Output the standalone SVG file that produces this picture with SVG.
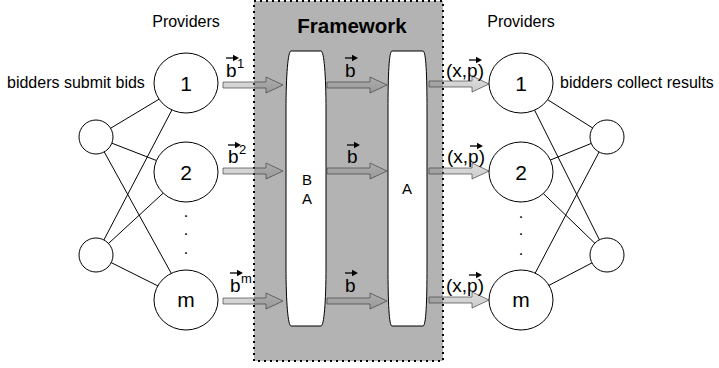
<svg xmlns="http://www.w3.org/2000/svg" xmlns:xlink="http://www.w3.org/1999/xlink" width="719" height="368" viewBox="0 0 719 368">
<defs>
<linearGradient id="ag" x1="0" y1="0" x2="0" y2="1">
<stop offset="0" stop-color="#a0a0a0"/>
<stop offset="1" stop-color="#6a6a6a"/>
</linearGradient>
<path id="arr" d="M0,-3 H43 V-8 L60,0 L43,8 V3 H0 Z"/>
<g id="vec"><line x1="0" y1="0" x2="9" y2="0" stroke="#000" stroke-width="1.3"/><path d="M7,-3.2 L13,0 L7,3.2 Z" fill="#000"/></g>
<style>
.t{font-family:"Liberation Sans",Arial,Helvetica,sans-serif;fill:#000}
.lbl{font-size:16px}
.bv{font-size:19px}
.num{font-size:21px;text-anchor:middle}
.sup{font-size:13px}
.big{fill:#fff;stroke:#000;stroke-width:1}
.edge{stroke:#000;stroke-width:1}
.arrow{fill:url(#ag);fill-opacity:0.35;stroke:#444;stroke-opacity:0.7;stroke-width:1}
.pillar{fill:#fff;stroke:#000;stroke-width:1}
</style>
</defs>

<g id="framework">
<rect x="254" y="1" width="189" height="360" fill="#b3b3b3" stroke="#000" stroke-width="2" stroke-dasharray="2 4"/>
<text class="t" x="352" y="33" font-size="20.5" font-weight="bold" text-anchor="middle">Framework</text>
</g>
<g id="BA">
<path class="pillar" d="M291,51 H321 C324,51 326,75 326,110 V267 C326,302 324,326 321,326 H291 C288,326 286,302 286,267 V110 C286,75 288,51 291,51 Z"/>
<text class="t" x="307" y="185" font-size="15" text-anchor="middle">B</text>
<text class="t" x="307" y="204" font-size="15" text-anchor="middle">A</text>
</g>
<g id="A">
<path class="pillar" d="M392,51 H423 C426,51 427,75 427,110 V267 C427,302 426,326 423,326 H392 C389,326 388,302 388,267 V110 C388,75 389,51 392,51 Z"/>
<text class="t" x="407" y="194" font-size="15" text-anchor="middle">A</text>
</g>

<g id="connectors">
<line class="edge" x1="96" y1="137" x2="186" y2="83"/>
<line class="edge" x1="96" y1="137" x2="186" y2="172"/>
<line class="edge" x1="96" y1="137" x2="186" y2="300"/>
<line class="edge" x1="96" y1="255" x2="186" y2="83"/>
<line class="edge" x1="96" y1="255" x2="186" y2="172"/>
<line class="edge" x1="96" y1="255" x2="186" y2="300"/>
<line class="edge" x1="607" y1="137" x2="521" y2="83"/>
<line class="edge" x1="607" y1="137" x2="521" y2="172"/>
<line class="edge" x1="607" y1="137" x2="521" y2="300"/>
<line class="edge" x1="607" y1="255" x2="521" y2="83"/>
<line class="edge" x1="607" y1="255" x2="521" y2="172"/>
<line class="edge" x1="607" y1="255" x2="521" y2="300"/>
<use xlink:href="#arr" href="#arr" class="arrow" x="223" y="85"/>
<use xlink:href="#arr" href="#arr" class="arrow" x="223" y="171"/>
<use xlink:href="#arr" href="#arr" class="arrow" x="223" y="301"/>
<use xlink:href="#arr" href="#arr" class="arrow" x="327" y="85"/>
<use xlink:href="#arr" href="#arr" class="arrow" x="327" y="171"/>
<use xlink:href="#arr" href="#arr" class="arrow" x="327" y="301"/>
<use xlink:href="#arr" href="#arr" class="arrow" x="429" y="84"/>
<use xlink:href="#arr" href="#arr" class="arrow" x="429" y="171"/>
<use xlink:href="#arr" href="#arr" class="arrow" x="429" y="300"/>
</g>

<g id="arrow-labels">
<text class="t bv" x="226" y="77">b</text><text class="t sup" x="237" y="68">1</text><use xlink:href="#vec" href="#vec" x="226" y="58"/>
<text class="t bv" x="228" y="163">b</text><text class="t sup" x="239" y="154">2</text><use xlink:href="#vec" href="#vec" x="228" y="145"/>
<text class="t bv" x="230" y="292">b</text><text class="t sup" x="241" y="283">m</text><use xlink:href="#vec" href="#vec" x="230" y="273"/>
<text class="t bv" x="345" y="77">b</text><use xlink:href="#vec" href="#vec" x="345" y="58"/>
<text class="t bv" x="347" y="163">b</text><use xlink:href="#vec" href="#vec" x="347" y="145"/>
<text class="t bv" x="345" y="292">b</text><use xlink:href="#vec" href="#vec" x="345" y="273"/>
<text class="t" x="446" y="77" font-size="19">(x,p)</text><use xlink:href="#vec" href="#vec" x="469" y="60"/>
<text class="t" x="447" y="163" font-size="19">(x,p)</text><use xlink:href="#vec" href="#vec" x="470" y="146"/>
<text class="t" x="446" y="292" font-size="19">(x,p)</text><use xlink:href="#vec" href="#vec" x="469" y="275"/>
</g>

<g id="left-bidders">
<text class="t lbl" x="186" y="27" text-anchor="middle">Providers</text>
<text class="t lbl" x="7" y="88">bidders submit bids</text>
</g>
<g id="left-s1"><circle class="big" cx="96" cy="137" r="17"/></g>
<g id="left-s2"><circle class="big" cx="96" cy="255" r="17"/></g>
<g id="left-1"><ellipse class="big" cx="186" cy="83" rx="32" ry="30"/><text class="t num" x="186" y="90.5">1</text></g>
<g id="left-2"><ellipse class="big" cx="186" cy="172" rx="32" ry="30"/><text class="t num" x="186" y="179.5">2</text></g>
<g id="left-m"><ellipse class="big" cx="186" cy="300" rx="32" ry="30"/><text class="t num" x="186" y="307">m</text></g>
<g id="left-dots"><text class="t lbl" x="186" y="217" text-anchor="middle">.</text><text class="t lbl" x="186" y="235" text-anchor="middle">.</text><text class="t lbl" x="186" y="254" text-anchor="middle">.</text></g>

<g id="right-bidders">
<text class="t lbl" x="521" y="27" text-anchor="middle">Providers</text>
<text class="t lbl" x="560" y="88">bidders collect results</text>
</g>
<g id="right-s1"><circle class="big" cx="607" cy="137" r="17"/></g>
<g id="right-s2"><circle class="big" cx="607" cy="255" r="17"/></g>
<g id="right-1"><ellipse class="big" cx="521" cy="83" rx="32" ry="30"/><text class="t num" x="521" y="90.5">1</text></g>
<g id="right-2"><ellipse class="big" cx="521" cy="172" rx="32" ry="30"/><text class="t num" x="521" y="179.5">2</text></g>
<g id="right-m"><ellipse class="big" cx="521" cy="300" rx="32" ry="30"/><text class="t num" x="521" y="307">m</text></g>
<g id="right-dots"><text class="t lbl" x="521" y="218" text-anchor="middle">.</text><text class="t lbl" x="521" y="235" text-anchor="middle">.</text><text class="t lbl" x="521" y="255" text-anchor="middle">.</text></g>
</svg>
